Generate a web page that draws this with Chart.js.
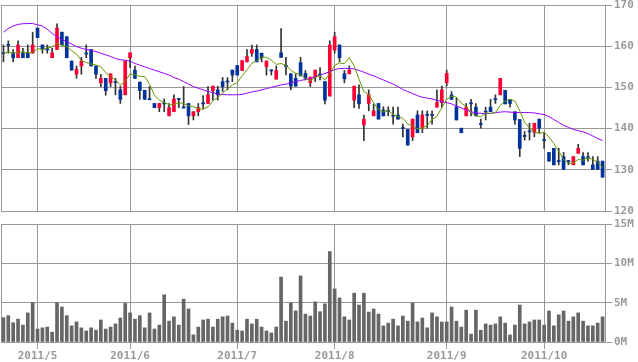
<!DOCTYPE html>
<html><head><meta charset="utf-8">
<script src="https://cdn.jsdelivr.net/npm/chart.js@4.4.0/dist/chart.umd.min.js"></script>
<style>
html,body{margin:0;padding:0;background:#fff;}
#wrap{position:relative;width:638px;height:362px;overflow:hidden;background:#fff;}
#pc{position:absolute;left:0;top:-4px;}
#vc{position:absolute;left:0;top:215px;}
</style></head><body>
<div id="wrap">
<canvas id="pc" width="638" height="224" style="width:638px;height:224px"></canvas>
<canvas id="vc" width="638" height="147" style="width:638px;height:147px"></canvas>
</div>
<script>
const dates = ['4/20','4/21','4/22','4/25','4/26','4/27','4/28',
'5/2','5/6','5/9','5/10','5/11','5/12','5/13','5/16','5/17','5/18','5/19','5/20','5/23','5/24','5/25','5/26','5/27','5/30','5/31',
'6/1','6/2','6/3','6/6','6/7','6/8','6/9','6/10','6/13','6/14','6/15','6/16','6/17','6/20','6/21','6/22','6/23','6/24','6/27','6/28','6/29','6/30',
'7/1','7/4','7/5','7/6','7/7','7/8','7/11','7/12','7/13','7/14','7/15','7/19','7/20','7/21','7/22','7/25','7/26','7/27','7/28','7/29',
'8/1','8/2','8/3','8/4','8/5','8/8','8/9','8/10','8/11','8/12','8/15','8/16','8/17','8/18','8/19','8/22','8/23','8/24','8/25','8/26','8/29','8/30','8/31',
'9/1','9/2','9/5','9/6','9/7','9/8','9/9','9/12','9/13','9/14','9/15','9/16','9/20','9/21','9/22','9/26','9/27','9/28','9/29','9/30',
'10/3','10/4','10/5','10/6','10/7','10/11','10/12','10/13','10/14','10/17','10/18','10/19','10/20'];
const monthLabels = ['2011/5','2011/6','2011/7','2011/8','2011/9','2011/10'];

const opens = [158.4,160.45,158.3,157.2,158.4,158.4,158.3,164.4,160.3,159.35,157.2,159.2,163.4,162.3,156.4,153.2,155.2,158.35,159.2,155.2,
151.1,152.2,151.1,151.45,149.4,148.2,157.2,154.2,151.3,149.3,147.25,146.1,145.1,146.25,143.1,144.1,147.35,145.25,146.1,143.1,
144.1,146.25,146.1,149.2,149.4,151.4,151.55,154.2,155.3,154.1,156.2,158.3,159.2,158.3,155.0,154.25,152.0,158.4,155.35,153.3,
152.2,156.0,153.4,151.1,152.5,153.25,151.4,147.9,159.1,160.3,153.3,153.3,146.9,148.2,140.9,146.1,143.1,146.1,144.5,144.45,
143.25,143.3,140.25,139.8,138.0,143.3,140.1,143.45,143.45,145.2,146.3,151.1,148.2,145.3,140.1,143.1,146.25,145.2,141.25,144.25,
145.2,147.25,148.2,149.3,147.1,144.1,142.2,138.35,139.45,139.0,142.3,137.35,134.2,135.2,132.25,133.2,132.25,131.2,134.0,133.2,
133.15,131.2,132.1,132.1];
const highs = [160.3,161.3,159.2,161.3,159.5,160.3,163.4,164.4,160.3,160.3,159.5,165.4,163.4,162.3,156.4,155.2,157.3,160.3,159.2,155.2,
153.2,152.2,153.3,152.2,150.3,156.4,158.4,155.2,151.3,149.3,150.2,146.1,146.1,147.2,146.1,148.2,147.35,150.2,146.1,144.1,
146.1,148.0,150.2,150.3,150.3,152.4,152.4,154.2,155.3,156.5,159.2,160.3,160.3,158.3,156.4,154.25,155.2,164.3,157.3,153.3,
153.3,157.3,154.1,152.5,154.2,154.8,151.4,161.3,163.4,160.3,154.1,155.2,150.3,150.6,143.3,149.4,146.0,146.1,145.3,145.3,
145.2,145.2,141.1,139.8,142.3,144.3,144.3,144.3,144.3,149.4,150.3,154.2,149.0,147.4,140.1,146.1,147.1,146.1,142.3,145.2,
147.1,148.2,152.2,149.3,147.1,144.1,142.2,139.3,141.3,141.3,142.3,139.0,134.2,135.2,135.2,134.2,132.25,133.2,136.2,134.2,
134.2,133.2,133.2,132.1];
const lows = [156.2,158.3,156.2,157.2,157.2,157.2,158.3,162.1,158.3,158.3,157.2,159.2,160.3,157.2,154.2,152.2,153.2,157.2,155.2,152.2,
150.2,148.1,150.2,148.2,146.1,148.2,154.8,152.2,147.1,147.1,147.0,145.1,144.1,144.1,143.1,144.1,145.1,145.0,141.0,142.1,
143.1,144.9,146.1,146.9,146.9,149.0,149.4,151.4,153.0,154.1,156.2,157.5,156.2,156.2,153.0,153.0,152.0,157.3,153.0,149.4,
150.3,152.8,151.8,150.2,151.4,151.8,146.0,147.9,158.3,156.2,151.1,153.3,145.1,144.9,137.1,144.3,143.1,142.3,143.1,143.1,
141.1,142.3,138.0,136.0,137.1,139.0,139.0,140.1,141.1,145.2,145.2,150.3,147.1,142.1,139.0,143.1,143.1,143.1,140.1,142.1,
144.1,146.1,148.2,146.0,145.2,141.1,133.2,137.2,137.2,138.0,139.0,135.2,132.1,131.2,131.2,130.1,131.2,131.2,134.0,131.2,
132.1,130.1,130.1,128.2];
const closes = [158.2,160.2,157.2,160.3,157.2,157.2,160.3,162.1,159.2,159.1,158.4,164.4,160.3,157.2,154.2,154.4,156.4,158.1,155.2,153.2,
152.2,149.2,153.3,151.2,147.1,156.4,158.4,152.2,149.2,147.1,147.0,145.1,146.1,146.0,145.1,147.2,147.1,145.0,143.1,144.1,
145.1,146.0,148.2,150.3,148.2,150.2,151.3,153.0,153.0,156.5,157.5,159.2,156.2,157.2,156.4,154.0,154.1,157.3,155.1,150.3,
150.3,152.8,152.2,152.5,154.2,153.0,146.9,160.3,162.3,157.2,152.1,154.2,150.3,146.0,142.3,148.2,144.3,142.3,143.1,144.2,
143.0,142.3,140.0,136.0,142.3,139.0,143.3,143.2,143.2,146.3,149.4,153.4,147.1,142.1,139.0,145.2,146.0,143.1,141.0,144.0,
144.1,147.0,152.2,146.0,146.1,142.1,135.2,138.1,139.2,141.3,140.1,137.1,132.1,131.2,132.0,130.1,132.0,133.2,135.2,131.2,
132.9,130.1,130.1,128.2];
const ma5 = [158.3,158.6,158.3,158.5,158.62,158.42,158.44,159.42,159.2,159.58,
159.82,160.64,160.28,159.88,158.9,158.1,156.5,156.06,155.66,155.46,
155.02,153.58,152.62,151.82,150.6,151.44,153.28,153.06,152.66,152.66,
150.78,148.12,146.9,146.26,145.86,145.9,146.3,146.08,145.5,145.3,
144.88,144.66,145.3,146.74,147.56,148.58,149.64,150.6,151.14,152.8,
154.26,155.84,156.48,157.32,157.3,156.6,155.58,155.8,155.38,154.16,
153.42,153.16,152.14,151.62,152.4,152.94,151.76,153.38,155.34,155.94,
155.76,157.22,155.22,151.96,148.98,148.2,146.22,144.62,144.04,144.42,
143.38,142.98,142.52,141.1,140.72,139.92,140.12,140.76,142.2,143.0,
145.08,147.1,147.88,147.66,146.2,145.36,143.88,143.08,142.86,143.86,
143.64,143.84,145.66,146.66,147.08,146.68,144.32,141.5,140.14,139.18,
138.78,139.16,137.96,136.36,134.5,132.5,131.48,131.7,132.5,132.34,
132.9,132.52,131.9,130.5];
const ma25 = [163.4,164.3,164.9,165.3,165.45,165.5,165.5,165.2,164.9,164.1,
163.1,162.3,161.6,161.1,160.5,159.9,159.5,159.2,159.0,158.7,
158.3,157.9,157.5,157.0,156.7,156.6,156.4,155.8,155.4,155.0,
154.6,154.2,153.8,153.4,153.0,152.4,152.0,151.4,150.8,150.2,
149.8,149.4,149.0,148.7,148.4,148.3,148.2,148.2,148.2,148.3,
148.6,148.9,149.1,149.4,149.7,150.0,150.3,150.6,150.8,151.1,
151.4,151.7,151.9,152.2,152.6,153.0,153.4,153.8,154.3,154.6,
154.6,154.6,154.5,154.1,153.7,153.2,152.8,152.3,151.8,151.3,
150.8,150.2,149.5,149.0,148.5,148.0,147.6,147.4,147.2,146.9,
146.5,146.3,146.0,145.5,145.0,144.5,144.1,143.8,143.7,143.6,
143.7,143.9,144.0,144.1,144.0,143.9,143.9,143.9,143.9,143.8,
143.6,143.4,142.9,142.2,141.5,140.8,140.3,139.8,139.5,139.2,
138.8,138.2,137.6,137.1];
const volumes = [3.1,3.35,2.45,2.9,2.15,3.7,5.0,1.65,1.8,1.9,
1.25,5.0,4.45,3.35,2.05,2.55,1.8,1.4,1.8,1.5,
2.8,1.65,1.9,2.3,3.05,4.9,3.7,2.9,3.35,1.8,
3.7,1.65,2.15,6.0,2.65,3.2,2.15,5.45,4.2,0.9,
1.9,2.8,2.9,1.9,2.9,3.2,3.3,2.4,1.5,1.4,
2.9,2.3,2.9,1.9,1.4,1.15,1.9,8.25,2.65,4.95,
3.95,8.4,3.55,3.3,5.1,3.85,4.85,11.5,6.75,5.6,
3.2,2.8,6.2,4.7,6.2,3.8,4.2,3.55,2.05,2.4,
2.9,2.05,3.3,2.65,4.95,2.55,3.05,1.8,3.7,3.2,
2.55,2.55,4.45,2.65,1.9,4.05,1.0,4.05,1.5,2.3,
2.15,2.3,3.2,2.4,0.9,2.15,4.7,2.3,2.55,2.8,
2.8,2.15,3.95,2.05,3.45,3.95,2.65,3.2,3.7,2.65,
2.05,2.05,2.4,3.2];
const priceTicks = [120,130,140,150,160,170];
const volumeTicks = [0,5,10,15];
const volumeUnit = 'M';

const gridColor = '#999999';
const labelColor = '#999999';
const upColor = '#ff0033';
const downColor = '#003399';
const wickColor = '#333333';
const volColor = '#666666';
const tickFont = {family:'DejaVu Sans Mono', size:11, weight:'bold'};

const monthOf = d => d.split('/')[0];
const monthStart = dates.map((d,i) => i > 0 && monthOf(d) !== monthOf(dates[i-1]));
const monthIdx = {};
let k = 0;
monthStart.forEach((m,i) => { if (m) monthIdx[i] = monthLabels[k++]; });
const monthGrid = ctx => monthStart[ctx.index] ? gridColor : 'rgba(0,0,0,0)';

const wicks = dates.map((d,i) => [lows[i], highs[i]]);
const bodies = dates.map((d,i) => [Math.min(opens[i],closes[i]), Math.max(opens[i],closes[i])]);
const bodyColors = dates.map((d,i) => closes[i] > opens[i] ? upColor : downColor);

const leftFrame = {
  id: 'leftFrame',
  beforeDatasetsDraw(chart) {
    const {ctx, chartArea: a} = chart;
    ctx.save();
    ctx.strokeStyle = gridColor; ctx.lineWidth = 1;
    const x = Math.round(a.left) + 0.5;
    ctx.beginPath(); ctx.moveTo(x, a.top); ctx.lineTo(x, a.bottom); ctx.stroke();
    ctx.restore();
  }
};

new Chart(document.getElementById('pc'), {
  data: {
    labels: dates,
    datasets: [
      {type:'line', data: ma5, borderColor:'#669900', borderWidth:1, pointRadius:0, tension:0, order:0},
      {type:'line', data: ma25, borderColor:'#9900ff', borderWidth:1, pointRadius:0, tension:0, order:1},
      {type:'bar', data: bodies, backgroundColor: bodyColors, barThickness:3, grouped:false, borderWidth:0, order:2},
      {type:'bar', data: wicks, backgroundColor: wickColor, barThickness:1, grouped:false, borderWidth:0, order:3}
    ]
  },
  options: {
    responsive:false, animation:false, devicePixelRatio:1,
    layout:{padding:{top:9, bottom:9, left:1, right:0}},
    plugins:{legend:{display:false}, tooltip:{enabled:false}},
    scales:{
      x:{offset:true, grid:{offset:false, drawTicks:false, color: monthGrid},
         ticks:{display:false, autoSkip:false}, border:{display:true, color:gridColor}},
      y:{position:'right', min:priceTicks[0], max:priceTicks[priceTicks.length-1],
         afterBuildTicks: s => { s.ticks = priceTicks.map(v => ({value:v})); },
         ticks:{padding:2, color:labelColor, font:tickFont},
         grid:{color:gridColor, tickLength:7, tickColor:gridColor},
         border:{color:gridColor},
         afterFit: s => { s.width = 33; }}
    }
  },
  plugins:[leftFrame]
});

new Chart(document.getElementById('vc'), {
  type:'bar',
  data: {
    labels: dates,
    datasets: [{data: volumes, backgroundColor: volColor, barThickness:3, borderWidth:0}]
  },
  options: {
    responsive:false, animation:false, devicePixelRatio:1,
    layout:{padding:{top:9, bottom:0, left:1, right:0}},
    plugins:{legend:{display:false}, tooltip:{enabled:false}},
    scales:{
      x:{offset:true, grid:{offset:false, color: monthGrid, tickLength:7, tickColor: monthGrid},
         ticks:{autoSkip:false, maxRotation:0, minRotation:0, padding:1, color:labelColor, font:tickFont,
                callback:(v,i) => monthIdx[i] || ''},
         border:{display:true, color:gridColor},
         afterFit: s => { s.height = 20; }},
      y:{position:'right', min:volumeTicks[0], max:volumeTicks[volumeTicks.length-1],
         afterBuildTicks: s => { s.ticks = volumeTicks.map(v => ({value:v})); },
         ticks:{padding:2, color:labelColor, font:tickFont, callback: v => v + volumeUnit},
         grid:{color:gridColor, tickLength:7, tickColor:gridColor},
         border:{color:gridColor},
         afterFit: s => { s.width = 33; }}
    }
  },
  plugins:[leftFrame]
});
</script>
</body></html>
